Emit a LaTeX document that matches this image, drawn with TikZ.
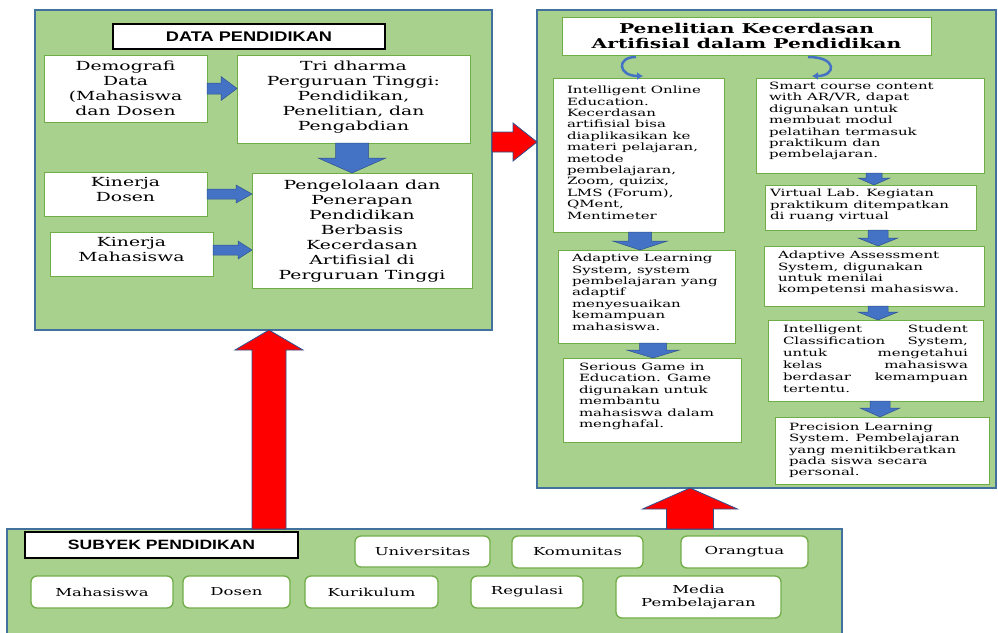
\documentclass[tikz,border=0pt]{standalone}
\usepackage{fontspec}
\setmainfont{DejaVu Serif}[FakeStretch=1.5]
\newfontfamily\hdfont{Liberation Sans}[FakeStretch=1.3]
\usetikzlibrary{calc,arrows.meta}
\definecolor{pgreen}{HTML}{A9D18E}
\definecolor{pborder}{HTML}{41719C}
\definecolor{bgreen}{HTML}{70AD47}
\definecolor{ablue}{HTML}{4472C4}
\definecolor{aborder}{HTML}{2F528F}
\definecolor{ared}{HTML}{FF0000}
\newcommand\lfs{\fontsize{12.5}{15}\selectfont}
\newcommand\rfs{\fontsize{10}{11.4}\selectfont}
\newcommand\bfs{\fontsize{11}{13}\selectfont}
% width, height, hpad, vpad, content
\newcommand\tb[5]{\hspace*{#3}\parbox[c][#2][t]{\dimexpr#1-#3-#3\relax}{\vspace*{#4}#5}\hspace*{#3}}
% block arrows: style, from, to, half shaft, half head, head length
\newcommand\arR[6]{\draw[#1] ($(#2)+(0,-#4)$) -- ($(#3)+(-#6,-#4)$) -- ($(#3)+(-#6,-#5)$) -- (#3) -- ($(#3)+(-#6,#5)$) -- ($(#3)+(-#6,#4)$) -- ($(#2)+(0,#4)$) -- cycle;}
\newcommand\arD[6]{\draw[#1] ($(#2)+(-#4,0)$) -- ($(#3)+(-#4,-#6)$) -- ($(#3)+(-#5,-#6)$) -- (#3) -- ($(#3)+(#5,-#6)$) -- ($(#3)+(#4,-#6)$) -- ($(#2)+(#4,0)$) -- cycle;}
\newcommand\arU[6]{\draw[#1] ($(#2)+(-#4,0)$) -- ($(#3)+(-#4,#6)$) -- ($(#3)+(-#5,#6)$) -- (#3) -- ($(#3)+(#5,#6)$) -- ($(#3)+(#4,#6)$) -- ($(#2)+(#4,0)$) -- cycle;}
\tikzset{
 panel/.style={draw=pborder, fill=pgreen, line width=1.2pt, inner sep=0pt, outer sep=0pt},
 wbox/.style={draw=bgreen, fill=white, line width=1pt, inner sep=0pt, outer sep=0pt},
 tbox/.style={draw=black, fill=white, line width=1.2pt, inner sep=0pt, outer sep=0pt},
 rbox/.style={wbox, rounded corners=6pt, line width=1.3pt, align=center, font=\bfs},
 barw/.style={fill=ablue, draw=aborder, line width=0.5pt},
 rarw/.style={fill=ared, draw=aborder, line width=0.8pt},
 curv/.style={draw=ablue, line width=2.5pt, -{Latex[length=6pt,width=8pt]}},
}
\begin{document}
\begin{tikzpicture}[x=1pt,y=-1pt]
\useasboundingbox (0,0) rectangle (998,632);
% panels
\node[panel, minimum width=457pt, minimum height=320pt] (pL) at (263.5,170) {};
\node[panel, minimum width=459pt, minimum height=478pt] (pR) at (766.5,249) {};
\node[panel, minimum width=835pt, minimum height=106pt] (pB) at (424.5,582) {};
% red arrows between panels
\coordinate (ry) at (0,142);
\coordinate (rx2) at (269,0);
\coordinate (rx3) at (690,0);
\coordinate (r1s) at (pL.east |- ry);
\coordinate (r1e) at (pR.west |- ry);
\coordinate (r2s) at (pB.north -| rx2);
\coordinate (r2e) at (pL.south -| rx2);
\coordinate (r3s) at (pB.north -| rx3);
\coordinate (r3e) at (pR.south -| rx3);
\arR{rarw}{r1s}{r1e}{10}{19}{24}
\arU{rarw}{r2s}{r2e}{17}{34}{20}
\arU{rarw}{r3s}{r3e}{23.5}{47.5}{21}
% left panel
\node[tbox, minimum width=272pt, minimum height=25pt, font=\hdfont\bfseries\fontsize{14}{16}\selectfont] (dtitle) at (249,36.5) {DATA PENDIDIKAN};
\node[wbox] (demo) at (125.5,88.5) {\tb{163pt}{67pt}{3pt}{6pt}{\centering\lfs Demografi\\Data\\(Mahasiswa\\dan Dosen}};
\node[wbox] (tri) at (353.5,99) {\tb{233pt}{88pt}{3pt}{6pt}{\centering\lfs Tri dharma\\Perguruan Tinggi:\\Pendidikan,\\Penelitian, dan\\Pengabdian}};
\node[wbox] (peng) at (362,230.5) {\tb{220pt}{115pt}{3pt}{7pt}{\centering\lfs Pengelolaan dan\\Penerapan\\Pendidikan\\Berbasis\\Kecerdasan\\Artifisial di\\Perguruan Tinggi}};
\node[wbox] (kd) at (125.5,194) {\tb{163pt}{44pt}{3pt}{5pt}{\centering\lfs Kinerja\\Dosen}};
\node[wbox] (km) at (131.5,254) {\tb{163pt}{44pt}{3pt}{5pt}{\centering\lfs Kinerja\\Mahasiswa}};
\coordinate (a1s) at (demo.east);
\coordinate (a1e) at (demo.east -| tri.west);
\arR{barw}{a1s}{a1e}{5.5}{12}{16}
\coordinate (ax2) at (352,0);
\coordinate (a2s) at (tri.south -| ax2);
\coordinate (a2e) at (peng.north -| ax2);
\arD{barw}{a2s}{a2e}{16.5}{34}{15}
\coordinate (a3s) at (kd.east);
\coordinate (a3e) at (kd.east -| peng.west);
\arR{barw}{a3s}{a3e}{5}{9}{16}
\coordinate (ay4) at (0,250);
\coordinate (a4s) at (km.east |- ay4);
\coordinate (a4e) at (peng.west |- ay4);
\arR{barw}{a4s}{a4e}{5}{9}{14}
% right panel
\node[wbox, minimum width=369pt, minimum height=38pt, align=center, font=\bfseries\fontsize{13.5}{15}\selectfont] (rtitle) at (746.5,36) {Penelitian Kecerdasan\\Artifisial dalam Pendidikan};
\node[wbox] (ioe) at (638.5,155) {\tb{171pt}{154pt}{14pt}{8pt}{\raggedright\rfs Intelligent Online\\Education.\\Kecerdasan\\artifisial bisa\\diaplikasikan ke\\materi pelajaran,\\metode\\pembelajaran,\\Zoom, quizix,\\LMS (Forum),\\QMent,\\Mentimeter}};
\node[wbox] (als) at (646.5,296.5) {\tb{177pt}{93pt}{14pt}{4pt}{\raggedright\rfs Adaptive Learning\\System, system\\pembelajaran yang\\adaptif\\menyesuaikan\\kemampuan\\mahasiswa.}};
\node[wbox] (sg) at (652,400) {\tb{178pt}{84pt}{16pt}{5pt}{\raggedright\rfs Serious Game in\\Education. Game\\digunakan untuk\\membantu\\mahasiswa dalam\\menghafal.}};
\node[wbox] (scc) at (870,125.5) {\tb{228pt}{95pt}{13pt}{4pt}{\raggedright\rfs Smart course content\\with AR/VR, dapat\\digunakan untuk\\membuat modul\\pelatihan termasuk\\praktikum dan\\pembelajaran.}};
\node[wbox] (vl) at (870.5,207.5) {\tb{211pt}{45pt}{5pt}{4pt}{\raggedright\rfs Virtual Lab. Kegiatan\\praktikum ditempatkan\\di ruang virtual}};
\node[wbox] (aas) at (874,276) {\tb{220pt}{60pt}{14pt}{5pt}{\raggedright\rfs Adaptive Assessment\\System, digunakan\\untuk menilai\\kompetensi mahasiswa.}};
\node[wbox] (isc) at (875.5,360.5) {\tb{215pt}{81pt}{15pt}{5pt}{\raggedright\fontsize{10}{12}\selectfont Intelligent\hfill Student\\Classification\hfill System,\\untuk\hfill mengetahui\\kelas\hfill mahasiswa\\berdasar\hfill kemampuan\\tertentu.}};
\node[wbox] (pls) at (882,450.5) {\tb{214pt}{67pt}{14pt}{6pt}{\raggedright\rfs Precision Learning\\System. Pembelajaran\\yang menitikberatkan\\pada siswa secara\\personal.}};
% curved arrows from title
\coordinate (cl1) at (636,57);
\coordinate (cl2) at (643,76);
\draw[curv] (cl1) .. controls (616,57) and (618,76) .. (cl2);
\coordinate (cr1) at (808,57);
\coordinate (cr2) at (812,76);
\draw[curv] (cr1) .. controls (838,57) and (836,76) .. (cr2);
% right panel blue arrows
\coordinate (bx1) at (640,0);
\coordinate (b1s) at (ioe.south -| bx1);
\coordinate (b1e) at (als.north -| bx1);
\arD{barw}{b1s}{b1e}{11.5}{27.5}{9}
\coordinate (bx2) at (653,0);
\coordinate (b2s) at (als.south -| bx2);
\coordinate (b2e) at (sg.north -| bx2);
\arD{barw}{b2s}{b2e}{13.5}{26.5}{8}
\coordinate (cx1) at (874,0);
\coordinate (c1s) at (scc.south -| cx1);
\coordinate (c1e) at (vl.north -| cx1);
\arD{barw}{c1s}{c1e}{8}{16}{7}
\coordinate (cx2) at (878,0);
\coordinate (c2s) at (vl.south -| cx2);
\coordinate (c2e) at (aas.north -| cx2);
\arD{barw}{c2s}{c2e}{10}{20}{8}
\coordinate (c3s) at (aas.south -| cx2);
\coordinate (c3e) at (isc.north -| cx2);
\arD{barw}{c3s}{c3e}{10}{20}{8}
\coordinate (cx4) at (880,0);
\coordinate (c4s) at (isc.south -| cx4);
\coordinate (c4e) at (pls.north -| cx4);
\arD{barw}{c4s}{c4e}{10}{20}{9}
% bottom panel
\node[tbox, minimum width=273pt, minimum height=26pt, font=\hdfont\bfseries\fontsize{13.5}{15}\selectfont] (stitle) at (161.5,545) {SUBYEK PENDIDIKAN};
\node[rbox, minimum width=135pt, minimum height=31pt] (univ) at (422.5,551.5) {Universitas};
\node[rbox, minimum width=131pt, minimum height=32pt] (kom) at (577.5,552) {Komunitas};
\node[rbox, minimum width=127pt, minimum height=32pt] (ora) at (744.5,552) {Orangtua};
\node[rbox, minimum width=142pt, minimum height=32pt] (mhs) at (102,592) {Mahasiswa};
\node[rbox, minimum width=107pt, minimum height=32pt] (dos) at (236.5,592) {Dosen};
\node[rbox, minimum width=133pt, minimum height=32pt] (kur) at (371.5,592) {Kurikulum};
\node[rbox, minimum width=112pt, minimum height=32pt] (reg) at (527,592) {Regulasi};
\node[rbox, minimum width=165pt, minimum height=42pt] (med) at (698.5,597) {Media\\Pembelajaran};
\end{tikzpicture}
\end{document}
